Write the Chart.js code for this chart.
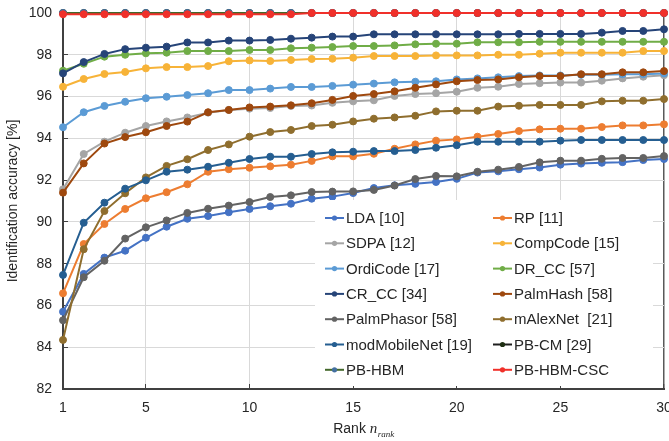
<!DOCTYPE html>
<html>
<head>
<meta charset="utf-8">
<script src="https://cdn.jsdelivr.net/npm/chart.js@4"></script>
<style>
  body { margin: 0; background: #fff; }
  #wrap { width: 669px; height: 441px; }
</style>
</head>
<body>
<div id="wrap"><canvas id="myChart" width="669" height="441"></canvas></div>
<script>
// ranks on the x axis and the ticks we label
const ranks = [1, 2, 3, 4, 5, 6, 7, 8, 9, 10, 11, 12, 13, 14, 15, 16, 17, 18, 19, 20, 21, 22, 23, 24, 25, 26, 27, 28, 29, 30];
const xTicks = [1, 5, 10, 15, 20, 25, 30];

// identification accuracy [%] per method
const LDA = [85.70, 87.51, 88.29, 88.62, 89.24, 89.77, 90.15, 90.28, 90.46, 90.62, 90.75, 90.87, 91.11, 91.21, 91.38, 91.62, 91.75, 91.82, 91.91, 92.06, 92.36, 92.42, 92.52, 92.60, 92.74, 92.79, 92.83, 92.86, 92.96, 93.01];
const RP = [86.58, 88.94, 89.90, 90.62, 91.13, 91.42, 91.80, 92.40, 92.52, 92.59, 92.66, 92.74, 92.92, 93.14, 93.14, 93.26, 93.50, 93.71, 93.89, 93.95, 94.08, 94.21, 94.35, 94.43, 94.46, 94.46, 94.54, 94.62, 94.62, 94.67];
const SDPA = [91.56, 93.25, 93.84, 94.27, 94.59, 94.81, 95.00, 95.23, 95.36, 95.42, 95.45, 95.55, 95.57, 95.70, 95.77, 95.82, 96.03, 96.12, 96.16, 96.23, 96.42, 96.47, 96.60, 96.64, 96.67, 96.67, 96.76, 96.87, 96.95, 97.02];
const CompCode = [96.47, 96.84, 97.08, 97.18, 97.35, 97.41, 97.41, 97.46, 97.69, 97.73, 97.70, 97.75, 97.80, 97.81, 97.86, 97.94, 97.94, 97.94, 97.97, 97.97, 97.97, 98.00, 98.00, 98.05, 98.10, 98.10, 98.10, 98.10, 98.18, 98.18];
const OrdiCode = [94.53, 95.25, 95.55, 95.75, 95.92, 95.99, 96.07, 96.16, 96.31, 96.31, 96.38, 96.46, 96.46, 96.51, 96.57, 96.62, 96.68, 96.71, 96.73, 96.82, 96.87, 96.92, 96.98, 97.01, 97.01, 97.04, 97.04, 97.07, 97.07, 97.10];
const DR_CC = [97.24, 97.57, 97.91, 98.00, 98.07, 98.10, 98.18, 98.18, 98.18, 98.23, 98.23, 98.31, 98.34, 98.37, 98.42, 98.42, 98.45, 98.50, 98.53, 98.53, 98.60, 98.60, 98.60, 98.62, 98.62, 98.62, 98.62, 98.62, 98.62, 98.62];
const CR_CC = [97.11, 97.65, 98.04, 98.27, 98.34, 98.39, 98.59, 98.59, 98.68, 98.68, 98.71, 98.77, 98.82, 98.87, 98.87, 98.98, 98.98, 98.98, 98.98, 98.98, 98.98, 98.98, 99.00, 99.00, 99.00, 99.00, 99.06, 99.14, 99.14, 99.22];
const PalmHash = [91.40, 92.80, 93.75, 94.06, 94.29, 94.59, 94.80, 95.25, 95.36, 95.48, 95.52, 95.58, 95.68, 95.84, 96.03, 96.12, 96.25, 96.42, 96.58, 96.73, 96.79, 96.82, 96.92, 96.98, 96.98, 97.07, 97.07, 97.16, 97.16, 97.22];
const PalmPhasor = [85.29, 87.35, 88.14, 89.20, 89.74, 90.07, 90.43, 90.63, 90.78, 90.95, 91.19, 91.27, 91.43, 91.45, 91.46, 91.53, 91.74, 92.05, 92.20, 92.18, 92.40, 92.50, 92.63, 92.85, 92.93, 92.93, 93.02, 93.06, 93.06, 93.15];
const mAlexNet = [84.35, 88.69, 90.52, 91.37, 92.13, 92.68, 93.00, 93.44, 93.71, 94.08, 94.30, 94.40, 94.59, 94.65, 94.81, 94.94, 95.00, 95.08, 95.29, 95.32, 95.32, 95.52, 95.56, 95.60, 95.60, 95.60, 95.77, 95.80, 95.80, 95.88];
const modMobileNet = [87.46, 89.96, 90.92, 91.59, 91.99, 92.40, 92.50, 92.64, 92.83, 93.01, 93.12, 93.12, 93.25, 93.33, 93.36, 93.39, 93.39, 93.44, 93.55, 93.67, 93.84, 93.84, 93.84, 93.84, 93.89, 93.92, 93.92, 93.92, 93.92, 93.92];
const PB_CM = [100, 100, 100, 100, 100, 100, 100, 100, 100, 100, 100, 100, 100, 100, 100, 100, 100, 100, 100, 100, 100, 100, 100, 100, 100, 100, 100, 100, 100, 100];
const PB_HBM = [100, 100, 100, 100, 100, 100, 100, 100, 100, 100, 100, 100, 100, 100, 100, 100, 100, 100, 100, 100, 100, 100, 100, 100, 100, 100, 100, 100, 100, 100];
const PB_HBM_CSC = [99.94, 99.94, 99.94, 99.94, 99.94, 99.94, 99.94, 99.94, 99.94, 99.94, 99.94, 99.94, 100, 100, 100, 100, 100, 100, 100, 100, 100, 100, 100, 100, 100, 100, 100, 100, 100, 100];

const methodNames = ["LDA [10]", "RP [11]", "SDPA [12]", "CompCode [15]", "OrdiCode [17]", "DR_CC [57]", "CR_CC [34]",
  "PalmHash [58]", "PalmPhasor [58]", "mAlexNet  [21]", "modMobileNet [19]", "PB-CM [29]", "PB-HBM", "PB-HBM-CSC"];
const methodValues = [LDA, RP, SDPA, CompCode, OrdiCode, DR_CC, CR_CC, PalmHash, PalmPhasor, mAlexNet, modMobileNet, PB_CM, PB_HBM, PB_HBM_CSC];

// Excel-like palette
const lineColors = ["#4472C4", "#ED7D31", "#A5A5A5", "#F7B338", "#5B9BD5", "#70AD47", "#264478",
  "#9E480E", "#636363", "#8F6E2E", "#255E91", "#1E1E1E", "#43682B", "#F0302A"];
const dotColors = ["#4472C4", "#ED7D31", "#A5A5A5", "#F7B338", "#5B9BD5", "#70AD47", "#264478",
  "#9E480E", "#636363", "#8F6E2E", "#255E91", "#1E2E12", "#4470A0", "#F0302A"];

const FONT = "'Liberation Sans', Arial, sans-serif";
const TEXT = "#262626";

const datasets = methodValues.map((vals, i) => ({
  label: methodNames[i],
  data: ranks.map((r, j) => ({ x: r, y: vals[j] })),
  borderColor: lineColors[i],
  backgroundColor: dotColors[i],
  pointBackgroundColor: dotColors[i],
  pointBorderColor: dotColors[i],
  borderWidth: 2,
  pointRadius: 3.5,
  pointBorderWidth: 1,
  tension: 0,
  clip: false,
  // later series on top, like the original
  order: methodValues.length - i,
}));

// Legend box sitting inside the plot, two columns
const insideLegend = {
  id: "insideLegend",
  afterDatasetsDraw(chart) {
    const c = chart.ctx;
    c.save();
    c.fillStyle = "#fff";
    c.fillRect(315, 200, 338, 186);
    c.font = "15px " + FONT;
    c.textBaseline = "middle";
    methodNames.forEach((name, i) => {
      const col = i % 2;
      const row = Math.floor(i / 2);
      const x = col === 0 ? 325 : 493;
      const y = 218 + row * 25.3;
      c.strokeStyle = lineColors[i];
      c.lineWidth = 2;
      c.beginPath();
      c.moveTo(x, y);
      c.lineTo(x + 19, y);
      c.stroke();
      c.fillStyle = dotColors[i];
      c.beginPath();
      c.arc(x + 9.5, y, 2.6, 0, Math.PI * 2);
      c.fill();
      c.fillStyle = TEXT;
      c.textAlign = "left";
      c.fillText(name, x + 21, y + 1);
    });
    c.restore();
  },
  afterDraw(chart) {
    // x title: "Rank n_rank" with an italic, subscripted symbol
    const c = chart.ctx;
    const a = chart.chartArea;
    c.save();
    c.fillStyle = TEXT;
    c.textBaseline = "alphabetic";
    c.textAlign = "left";
    const p1 = "Rank ";
    c.font = "14px " + FONT;
    const w1 = c.measureText(p1).width;
    c.font = "italic 15px 'Liberation Serif', 'Times New Roman', serif";
    const w2 = c.measureText("n").width;
    c.font = "italic 9px 'Liberation Serif', 'Times New Roman', serif";
    const w3 = c.measureText("rank").width;
    let x = (a.left + a.right) / 2 - (w1 + w2 + w3) / 2;
    const base = 433;
    c.font = "14px " + FONT;
    c.fillText(p1, x, base);
    x += w1;
    c.font = "italic 15px 'Liberation Serif', 'Times New Roman', serif";
    c.fillText("n", x, base);
    x += w2 + 0.5;
    c.font = "italic 9px 'Liberation Serif', 'Times New Roman', serif";
    c.fillText("rank", x, base + 3.5);
    c.restore();
  },
};

const ctx = document.getElementById("myChart");

new Chart(ctx, {
  type: "line",
  data: { datasets: datasets },
  options: {
    responsive: false,
    animation: false,
    maintainAspectRatio: false,
    layout: { padding: { top: 13, right: 4, left: 0, bottom: 0 } },
    plugins: {
      legend: { display: false },
      tooltip: { enabled: false },
    },
    scales: {
      x: {
        type: "linear",
        min: 1,
        max: 30,
        afterBuildTicks: (s) => { s.ticks = xTicks.map((v) => ({ value: v })); },
        afterFit: (s) => {
          s.height = 52;
          s.paddingLeft = 0;
          s.paddingRight = 0;
        },
        ticks: {
          font: { family: FONT, size: 14 },
          color: TEXT,
          padding: 16,
          maxRotation: 0,
          autoSkip: false,
        },
        grid: {
          color: (c) => (c.tick && c.tick.value === 30 ? "#595959" : "#d9d9d9"),
          lineWidth: (c) => (c.tick && c.tick.value === 30 ? 1.5 : 1),
          tickLength: -5,
          tickColor: "#404040",
          tickWidth: 1,
        },
        border: { color: "#404040", width: 2 },
      },
      y: {
        min: 82,
        max: 100,
        afterFit: (s) => {
          s.width = 63;
          s.paddingTop = 0;
          s.paddingBottom = 0;
        },
        ticks: {
          stepSize: 2,
          font: { family: FONT, size: 14 },
          color: TEXT,
          padding: 16,
        },
        grid: {
          color: "#d9d9d9",
          lineWidth: 1,
          tickLength: -5,
          tickColor: "#404040",
          tickWidth: 1,
        },
        border: { color: "#404040", width: 2 },
        title: {
          display: true,
          text: "Identification accuracy [%]",
          font: { family: FONT, size: 14 },
          color: TEXT,
          padding: { top: 5, bottom: 0 },
        },
      },
    },
  },
  plugins: [insideLegend],
});
</script>
</body>
</html>
